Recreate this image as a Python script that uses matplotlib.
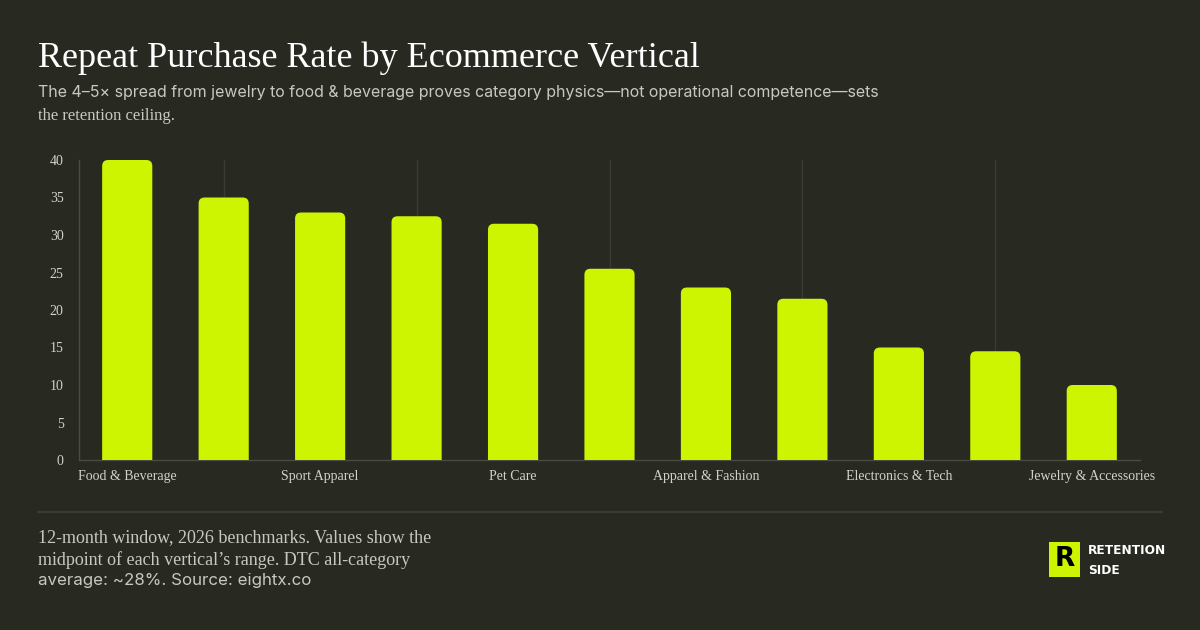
import matplotlib
matplotlib.use('Agg')
import matplotlib.pyplot as plt
from matplotlib.patches import FancyBboxPatch, Rectangle
from matplotlib.lines import Line2D

# data
categories = ['Food & Beverage', 'Beauty & Personal Care', 'Sport Apparel',
              'Health & Supplements', 'Pet Care', 'Home & Garden',
              'Apparel & Fashion', 'Baby & Kids', 'Electronics & Tech',
              'Home Furniture', 'Jewelry & Accessories']
repeat_rate = [40, 35, 33, 32.5, 31.5, 25.5, 23, 21.5, 15, 14.5, 10]
y_ticks = [0, 5, 10, 15, 20, 25, 30, 35, 40]

bg = '#282a22'
lime = '#cdf400'
grid_c = '#3a3c34'
txt = '#d2d2ca'

fig = plt.figure(figsize=(12, 6.3), dpi=100, facecolor=bg)
ax = fig.add_axes([79/1200, 170/630, 1061/1200, 300/630], facecolor=bg)

x = list(range(len(categories)))
bars = ax.bar(x, repeat_rate, width=0.52, color='none')
ax.set_xlim(-0.5, len(categories) - 0.5)
ax.set_ylim(0, 40)

# rounded tops: radius ~6px
px_x = 1061 / len(categories)
px_y = 300 / 40
r = 6 / px_x
for b in bars:
    p = FancyBboxPatch((b.get_x(), -2), b.get_width(), b.get_height() + 2,
                       boxstyle='round,pad=0,rounding_size=%f' % r,
                       mutation_aspect=px_x / px_y,
                       facecolor=lime, edgecolor='none', zorder=3)
    ax.add_patch(p)

# faint vertical grid at unlabeled positions
for i in x[1::2]:
    ax.axvline(i, color=grid_c, lw=1, zorder=1)

ax.set_xticks(x[::2])
ax.set_xticklabels(categories[::2], family='Liberation Serif', fontsize=10, color=txt)
ax.set_yticks(y_ticks)
ax.set_yticklabels([str(v) for v in y_ticks], family='Liberation Serif', fontsize=10, color=txt)
ax.tick_params(axis='y', length=0, pad=11)
ax.tick_params(axis='x', length=0, pad=7)
for s in ['top', 'right']:
    ax.spines[s].set_visible(False)
for s in ['left', 'bottom']:
    ax.spines[s].set_color('#4a4c44')
    ax.spines[s].set_linewidth(1)

# title and subtitle
fig.text(38/1200, 1 - 58/630, 'Repeat Purchase Rate by Ecommerce Vertical',
         family='Liberation Serif', fontsize=26, color='white', va='center')
fig.text(38/1200, 1 - 92/630,
         'The 4\u20135\u00d7 spread from jewelry to food & beverage proves category physics\u2014not operational competence\u2014sets',
         family='Inter', fontsize=11.5, color='#c8c8c0', va='center')
fig.text(38/1200, 1 - 116/630, 'the retention ceiling.',
         family='Liberation Serif', fontsize=12, color='#c8c8c0', va='center')

# footer
fig.add_artist(Line2D([38/1200, 1162/1200], [1 - 512/630, 1 - 512/630],
                      color='#3a3c34', lw=1.5))
fig.text(38/1200, 1 - 538/630, '12-month window, 2026 benchmarks. Values show the',
         family='Liberation Serif', fontsize=13, color='#c8c8c0', va='center')
fig.text(38/1200, 1 - 560/630, 'midpoint of each vertical\u2019s range. DTC all-category',
         family='Liberation Serif', fontsize=13, color='#c8c8c0', va='center')
fig.text(38/1200, 1 - 581/630, 'average: ~28%. Source: eightx.co',
         family='Inter', fontsize=12.2, color='#c8c8c0', va='center')

# logo
fig.add_artist(Rectangle((1049/1200, 1 - 577/630), 31/1200, 35/630,
                         facecolor=lime, edgecolor='none'))
fig.text(1064.5/1200, 1 - 559.5/630, 'R', family='DejaVu Sans', fontweight='bold',
         fontsize=19, color='black', ha='center', va='center')
fig.text(1088/1200, 1 - 550/630, 'RETENTION', family='DejaVu Sans',
         fontweight='bold', fontsize=8.7, color='white', va='center')
fig.text(1088/1200, 1 - 570/630, 'SIDE', family='DejaVu Sans',
         fontweight='bold', fontsize=8.7, color='white', va='center')

fig.savefig('out.png', dpi=100, facecolor=bg)
